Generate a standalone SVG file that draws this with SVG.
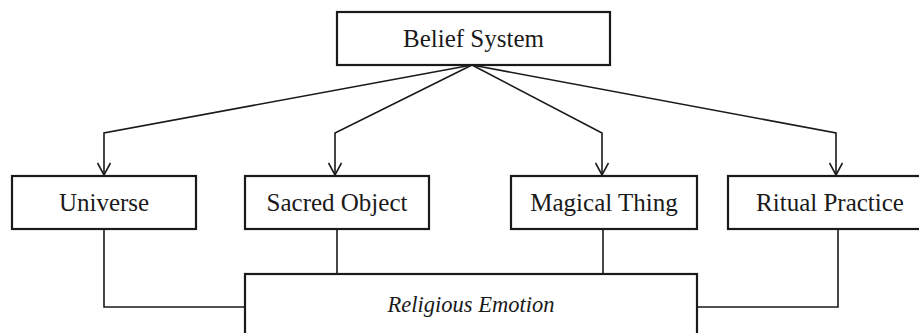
<svg xmlns="http://www.w3.org/2000/svg" width="919" height="333" viewBox="0 0 919 333">
<style>
.box{fill:#fff;stroke:#1a1a1a;stroke-width:2.2}
.lbl{font-family:"Liberation Serif","Times New Roman",serif;font-size:25px;fill:#1a1a1a;text-anchor:middle}
.it{font-style:italic;font-size:22.5px}
.con{fill:none;stroke:#1a1a1a;stroke-width:1.6}
</style>
<defs>
<marker id="ah" viewBox="0 0 14 14" refX="13" refY="7" markerWidth="14" markerHeight="14" markerUnits="userSpaceOnUse" orient="auto">
<path d="M1,0.5 L13,7 L1,13.5" fill="none" stroke="#1a1a1a" stroke-width="1.6"/>
</marker>
</defs>
<rect width="919" height="333" fill="#fff"/>
<g id="connectors">
<polyline class="con" points="472,65 104,133 104,175" marker-end="url(#ah)"/>
<polyline class="con" points="472,65 335,133 335,175" marker-end="url(#ah)"/>
<polyline class="con" points="472,65 602,133 602,175" marker-end="url(#ah)"/>
<polyline class="con" points="472,65 836,133 836,175" marker-end="url(#ah)"/>
<polyline class="con" points="104,229 104,307 245,307"/>
<polyline class="con" points="337,229 337,274"/>
<polyline class="con" points="603,229 603,274"/>
<polyline class="con" points="838,229 838,307 697,307"/>
</g>
<g id="belief">
<rect class="box" x="337" y="12" width="273" height="53"/>
<text class="lbl" x="473.5" y="47">Belief System</text>
</g>
<g id="universe">
<rect class="box" x="12" y="176" width="184" height="53"/>
<text class="lbl" x="104" y="211">Universe</text>
</g>
<g id="sacred">
<rect class="box" x="245" y="176" width="184" height="53"/>
<text class="lbl" x="337" y="211">Sacred Object</text>
</g>
<g id="magical">
<rect class="box" x="511" y="176" width="186" height="53"/>
<text class="lbl" x="604" y="211">Magical Thing</text>
</g>
<g id="ritual">
<rect class="box" x="728" y="176" width="204" height="53"/>
<text class="lbl" x="830" y="211">Ritual Practice</text>
</g>
<g id="emotion">
<rect class="box" x="245" y="274" width="452" height="70"/>
<text class="lbl it" x="471" y="312">Religious Emotion</text>
</g>
</svg>
